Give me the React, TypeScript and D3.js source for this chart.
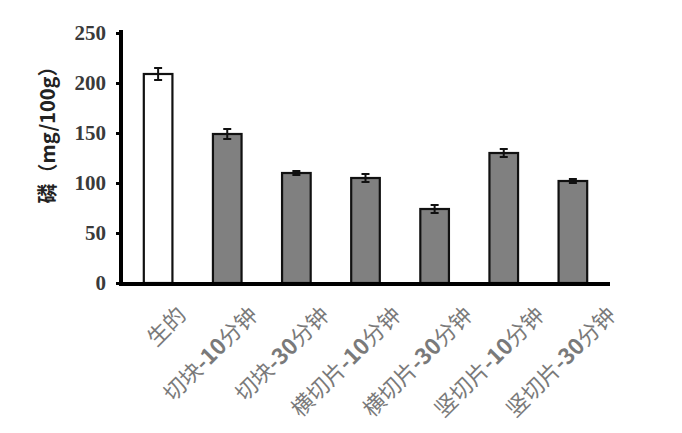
import * as d3 from "d3";
import { useEffect, useRef } from "react";

const categories = [
  "生的",
  "切块-10分钟",
  "切块-30分钟",
  "横切片-10分钟",
  "横切片-30分钟",
  "竖切片-10分钟",
  "竖切片-30分钟",
];
const values = [209, 149, 110, 105, 74, 130, 102];
const errors = [6, 5, 2, 4, 4, 4, 2];
const yTicks = [0, 50, 100, 150, 200, 250];

export default function App() {
  const svgRef = useRef<SVGSVGElement | null>(null);

  useEffect(() => {
    if (!svgRef.current) return;
    const width = 682;
    const height = 433;
    const svg = d3.select(svgRef.current);
    svg.selectAll("*").remove();
    svg.attr("width", width).attr("height", height);

    svg.append("rect").attr("width", width).attr("height", height).attr("fill", "#fff");

    const x0 = 121;
    const x1 = 610;
    const yBottom = 283;
    const yTop = 33;

    const x = d3
      .scaleBand()
      .domain(categories)
      .range([x0, x1])
      .paddingInner(0.586)
      .paddingOuter(0.33);
    const y = d3.scaleLinear().domain([0, 250]).range([yBottom, yTop]);

    const data = categories.map((c, i) => ({ name: c, value: values[i], err: errors[i], i }));

    // bars
    svg
      .selectAll(".bar")
      .data(data)
      .enter()
      .append("rect")
      .attr("class", "bar")
      .attr("x", (d) => x(d.name)!)
      .attr("y", (d) => y(d.value))
      .attr("width", x.bandwidth())
      .attr("height", (d) => yBottom - y(d.value))
      .attr("fill", (d) => (d.i === 0 ? "#ffffff" : "#808080"))
      .attr("stroke", "#111")
      .attr("stroke-width", 2.2);

    // error bars
    const eb = svg.append("g").attr("stroke", "#111").attr("stroke-width", 2);
    data.forEach((d) => {
      const cx = x(d.name)! + x.bandwidth() / 2;
      eb.append("line")
        .attr("x1", cx).attr("x2", cx)
        .attr("y1", y(d.value + d.err)).attr("y2", y(d.value - d.err));
      eb.append("line")
        .attr("x1", cx - 4).attr("x2", cx + 4)
        .attr("y1", y(d.value + d.err)).attr("y2", y(d.value + d.err));
      eb.append("line")
        .attr("x1", cx - 4).attr("x2", cx + 4)
        .attr("y1", y(d.value - d.err)).attr("y2", y(d.value - d.err));
    });

    // y axis
    const yAxis = svg
      .append("g")
      .attr("transform", `translate(${x0},0)`)
      .call(d3.axisLeft(y).tickValues(yTicks).tickSize(5).tickPadding(10).tickFormat(d3.format("d")));
    yAxis.select(".domain").attr("stroke", "#000").attr("stroke-width", 4).attr("d", `M0,${yTop - 3}V${yBottom}`);
    yAxis.selectAll(".tick line").attr("stroke", "#000").attr("stroke-width", 3);
    yAxis
      .selectAll(".tick text")
      .attr("fill", "#3a3a3a")
      .attr("font-family", "'Liberation Serif', 'Times New Roman', serif")
      .attr("font-weight", "bold")
      .attr("font-size", 21);

    // x axis line
    svg
      .append("line")
      .attr("x1", x0 - 2)
      .attr("x2", x1)
      .attr("y1", yBottom + 1)
      .attr("y2", yBottom + 1)
      .attr("stroke", "#000")
      .attr("stroke-width", 4);

    // x labels (label spacing in the source is a little wider than the bar spacing)
    const xl = svg.append("g");
    data.forEach((d) => {
      const cx = x(d.name)! + x.bandwidth() / 2;
      const t = xl
        .append("text")
        .attr("transform", `translate(${cx + 24 + d.i * 2.5},${yBottom + 28}) rotate(-45)`)
        .attr("text-anchor", "end")
        .attr("dy", "0.35em")
        .attr("fill", "#7a7a7a")
        .attr("font-family", "'Noto Sans CJK SC', sans-serif")
        .attr("font-size", 22);
      const parts = d.name.split(/(-\d+)/).filter((p) => p.length);
      parts.forEach((p) => {
        t.append("tspan")
          .attr("font-weight", /^-\d+$/.test(p) ? "bold" : "normal")
          .text(p);
      });
    });

    // y label
    svg
      .append("text")
      .attr("transform", `translate(48,${(yTop + yBottom) / 2 - 28}) rotate(-90)`)
      .attr("text-anchor", "middle")
      .attr("dy", "0.35em")
      .attr("fill", "#222")
      .attr("font-family", "'Noto Sans CJK SC', sans-serif")
      .attr("font-weight", "bold")
      .attr("font-size", 20)
      .text("磷（mg/100g）");
  }, []);

  return (
    <div style={{ position: "absolute", left: 0, top: 0 }}>
      <svg ref={svgRef} style={{ display: "block" }} />
    </div>
  );
}
